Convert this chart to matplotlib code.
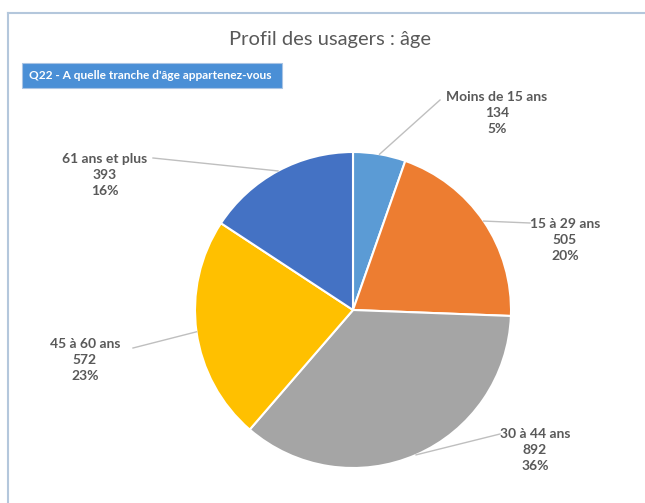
import matplotlib
matplotlib.use("Agg")
import matplotlib.pyplot as plt
import numpy as np
from matplotlib.lines import Line2D
from matplotlib.patches import Rectangle

categories = ["Moins de 15 ans", "15 à 29 ans", "30 à 44 ans", "45 à 60 ans", "61 ans et plus"]
values = [134, 505, 892, 572, 393]
percent_labels = ["5%", "20%", "36%", "23%", "16%"]
colors = ["#5B9BD5", "#ED7D31", "#A5A5A5", "#FFC000", "#4472C4"]

title = "Profil des usagers : âge"
subtitle = "Q22 - A quelle tranche d'âge appartenez-vous"

W, H = 645, 503
fig = plt.figure(figsize=(W / 100, H / 100), dpi=100)
fig.patch.set_facecolor("white")

def fx(x):
    return x / W

def fy(y):
    return 1 - y / H

# frame (top & left edges visible)
fig.add_artist(Line2D([fx(8), fx(650)], [fy(13), fy(13)], color="#B4C7DC", lw=1.5))
fig.add_artist(Line2D([fx(8), fx(8)], [fy(13), fy(510)], color="#B4C7DC", lw=1.5))

# title
fig.text(fx(330), fy(40), title, ha="center", va="center", fontsize=14.5,
         family="Lato", color="#595959")

# subtitle box
fig.add_artist(Rectangle((fx(22), fy(88)), fx(282) - fx(22), fy(63) - fy(88),
                         facecolor="#4A8FD6", edgecolor="#A9C4E4", lw=0.8,
                         transform=fig.transFigure))
fig.text(fx(29), fy(75.5), subtitle, ha="left", va="center", fontsize=8.6,
         family="Lato", fontweight="bold", color="white")

# pie
cx, cy, r = 353, 310, 158
ax = fig.add_axes([fx(cx - r), fy(cy + r), (2 * r) / W, (2 * r) / H])
wedges, _ = ax.pie(values, colors=colors, startangle=90, counterclock=False,
                   radius=1, wedgeprops=dict(edgecolor="white", linewidth=1.5))
ax.set_xlim(-1, 1)
ax.set_ylim(-1, 1)
ax.set_aspect("equal")
ax.axis("off")

# labels: text center (px) and leader start (px)
label_pos = [(497, 113), (565, 240), (535, 450), (85, 360), (105, 175)]
leader_start = [(440, 100), (530, 223), (500, 434), (133, 348), (153, 158)]

for w, cat, v, p, (tx, ty), (lx, ly) in zip(wedges, categories, values,
                                             percent_labels, label_pos, leader_start):
    ang = np.deg2rad((w.theta1 + w.theta2) / 2)
    ex, ey = np.cos(ang), np.sin(ang)
    px_, py_ = cx + ex * r, cy - ey * r
    fig.add_artist(Line2D([fx(lx), fx(px_)], [fy(ly), fy(py_)], color="#BFBFBF", lw=1))
    fig.text(fx(tx), fy(ty), f"{cat}\n{v}\n{p}", ha="center", va="center",
             fontsize=10, family="Lato", fontweight="bold", color="#595959",
             linespacing=1.42)

fig.savefig("out.png", dpi=100, facecolor="white")
